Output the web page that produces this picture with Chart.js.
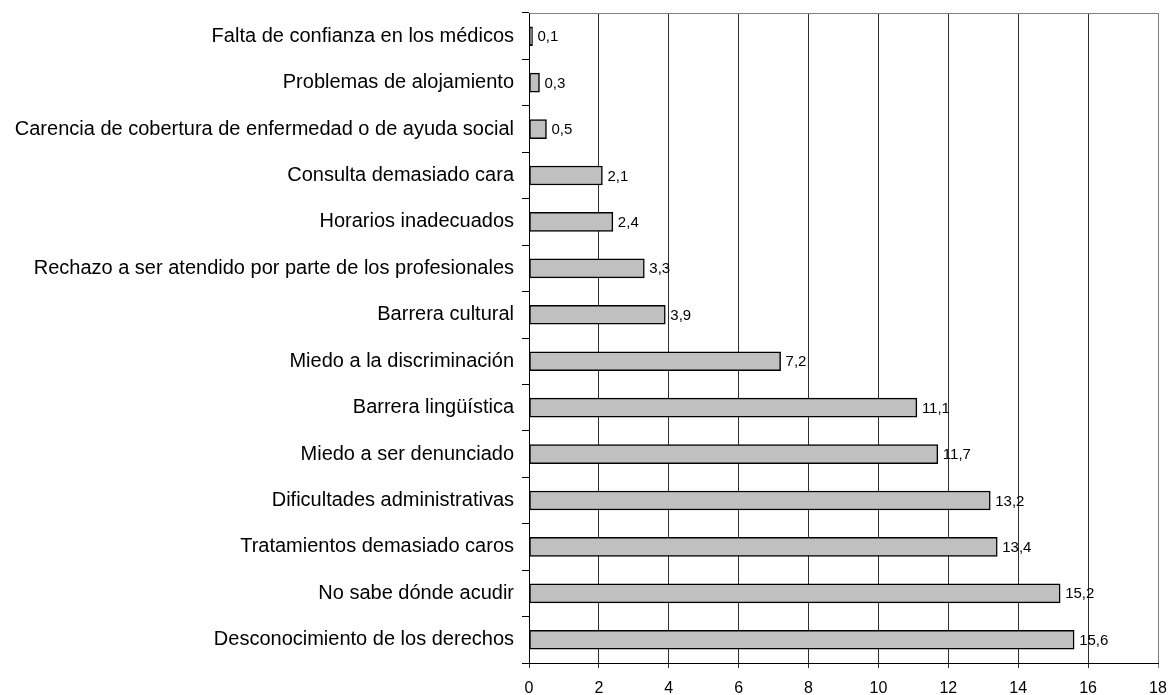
<!DOCTYPE html>
<html>
<head>
<meta charset="utf-8">
<script src="https://cdn.jsdelivr.net/npm/chart.js@4/dist/chart.umd.min.js"></script>
<style>
  html, body { margin: 0; padding: 0; background: #fff; }
  #wrap { width: 1170px; height: 695px; }
</style>
</head>
<body>
<div id="wrap"><canvas id="bar_chart_canvas"></canvas></div>
<script>
var categories = [
    "Falta de confianza en los médicos",
    "Problemas de alojamiento",
    "Carencia de cobertura de enfermedad o de ayuda social",
    "Consulta demasiado cara",
    "Horarios inadecuados",
    "Rechazo a ser atendido por parte de los profesionales",
    "Barrera cultural",
    "Miedo a la discriminación",
    "Barrera lingüística",
    "Miedo a ser denunciado",
    "Dificultades administrativas",
    "Tratamientos demasiado caros",
    "No sabe dónde acudir",
    "Desconocimiento de los derechos"
];
var percentages = [0.1, 0.3, 0.5, 2.1, 2.4, 3.3, 3.9, 7.2, 11.1, 11.7, 13.2, 13.4, 15.2, 15.6];
var xTicks = [0, 2, 4, 6, 8, 10, 12, 14, 16, 18];

var fontFamily = "'Liberation Sans', Arial, sans-serif";

// value labels at the end of each bar, comma as decimal mark
var barValueLabels = {
    id: "barValueLabels",
    afterDatasetsDraw: function (chart) {
        var ctx = chart.ctx;
        var meta = chart.getDatasetMeta(0);
        ctx.save();
        ctx.font = "15px " + fontFamily;
        ctx.fillStyle = "#000";
        ctx.textAlign = "left";
        ctx.textBaseline = "middle";
        meta.data.forEach(function (bar, i) {
            var txt = String(percentages[i]).replace(".", ",");
            ctx.fillText(txt, bar.x + 5, bar.y + 1);
        });
        ctx.restore();
    }
};

// grey frame on top and right of the plot area
var plotFrame = {
    id: "plotFrame",
    afterDraw: function (chart) {
        var a = chart.chartArea;
        var ctx = chart.ctx;
        ctx.save();
        ctx.strokeStyle = "#808080";
        ctx.lineWidth = 1;
        ctx.beginPath();
        ctx.moveTo(Math.round(a.left) + 0.5, Math.round(a.top) + 0.5);
        ctx.lineTo(Math.round(a.right) + 0.5, Math.round(a.top) + 0.5);
        ctx.lineTo(Math.round(a.right) + 0.5, Math.round(a.bottom));
        ctx.stroke();
        ctx.restore();
    }
};

window.myBarChart = new Chart(document.getElementById("bar_chart_canvas").getContext("2d"), {
    type: "bar",
    data: {
        labels: categories,
        datasets: [
            {
                label: "%",
                backgroundColor: "#C0C0C0",
                borderColor: "#000000",
                borderWidth: 1.5,
                borderSkipped: false,
                barThickness: 19,
                data: percentages
            }
        ]
    },
    plugins: [barValueLabels, plotFrame],
    options: {
        indexAxis: "y",
        responsive: true,
        maintainAspectRatio: false,
        animation: false,
        layout: {
            padding: { top: 13, right: 12, left: 0, bottom: 0 }
        },
        plugins: {
            legend: { display: false },
            tooltip: { enabled: false },
            title: { display: false }
        },
        scales: {
            x: {
                min: 0,
                max: 18,
                afterBuildTicks: function (scale) {
                    scale.ticks = xTicks.map(function (v) { return { value: v }; });
                },
                afterFit: function (scale) {
                    scale.height = 32;
                    scale.paddingLeft = 0;
                    scale.paddingRight = 0;
                },
                grid: {
                    color: function (c) {
                        return c.tick && c.tick.value === 18 ? "#808080" : "#303030";
                    },
                    lineWidth: 1,
                    tickLength: 5,
                    drawTicks: true
                },
                border: { color: "#000", width: 1 },
                ticks: {
                    color: "#000",
                    padding: 11,
                    maxRotation: 0,
                    font: { family: fontFamily, size: 16 }
                }
            },
            y: {
                afterFit: function (scale) {
                    scale.width = 529;
                    scale.paddingTop = 0;
                    scale.paddingBottom = 0;
                },
                grid: {
                    drawOnChartArea: false,
                    tickLength: 7,
                    color: "#000"
                },
                border: { color: "#000", width: 1 },
                ticks: {
                    color: "#000",
                    padding: 8,
                    autoSkip: false,
                    font: { family: fontFamily, size: 20 }
                }
            }
        }
    }
});
</script>
</body>
</html>
